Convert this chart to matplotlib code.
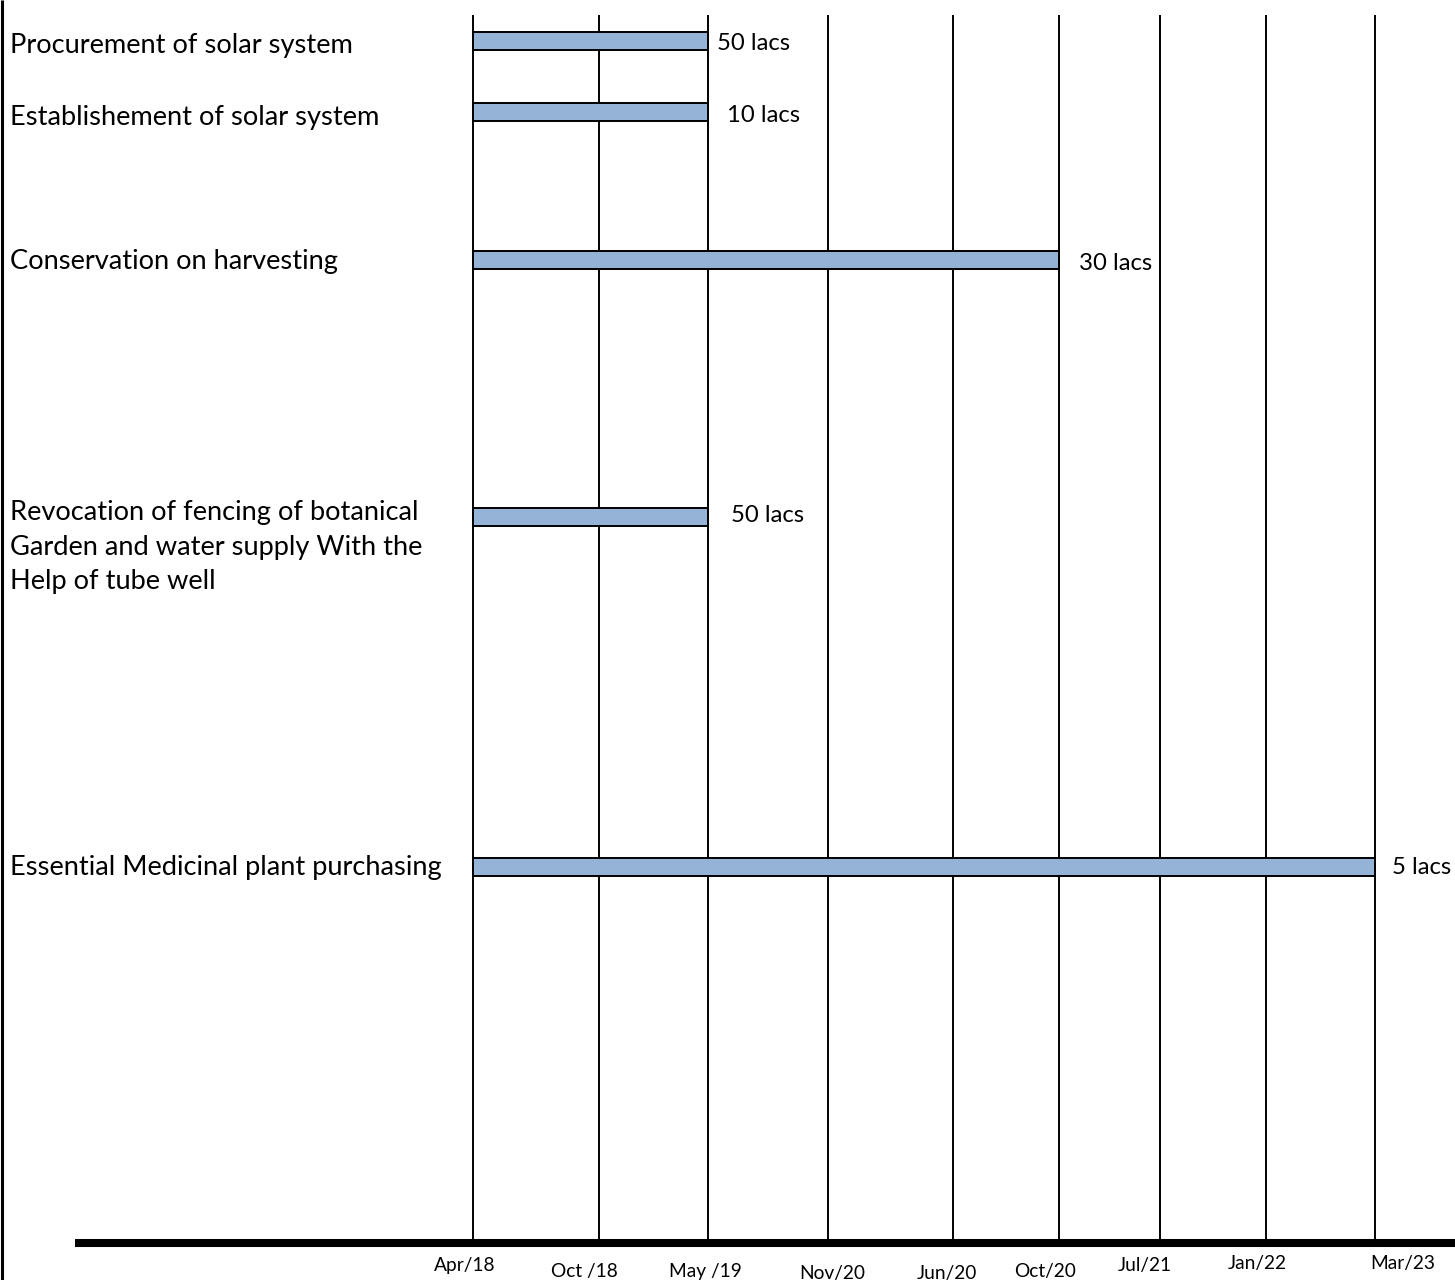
import matplotlib
matplotlib.use("Agg")
import matplotlib.pyplot as plt

# ---- data ----
tasks = [
    "Procurement of solar system",
    "Establishement of solar system",
    "Conservation on harvesting",
    "Revocation of fencing of botanical\nGarden and water supply With the\nHelp of tube well",
    "Essential Medicinal plant purchasing",
]
start_idx = [0, 0, 0, 0, 0]
end_idx = [2, 2, 5, 2, 8]
costs = ["50 lacs", "10 lacs", "30 lacs", "50 lacs", "5 lacs"]
tick_labels = ["Apr/18", "Oct /18", "May /19", "Nov/20", "Jun/20",
               "Oct/20", "Jul/21", "Jan/22", "Mar/23"]

# ---- layout (pixel space of the 1455x1280 canvas) ----
W, H = 1455, 1280
tick_x = [473, 599, 708, 828, 953, 1059, 1160, 1266, 1375]
bar_y = [41, 112, 260, 517, 867]
bar_h = 18
task_label_y = [45, 117, 261, 547, 868]
cost_x_off = [9, 19, 20, 23, 17]
cost_y = [43, 115, 263, 515, 867]
tick_label_x = [465, 584, 705, 832, 947, 1045, 1145, 1257, 1403]
tick_label_y = [1265, 1271, 1271, 1273, 1273, 1271, 1266, 1263, 1264]
axis_y = 1243
line_top = 15

FONT = "Lato"
BAR_COLOR = "#95B3D7"

fig = plt.figure(figsize=(W / 100, H / 100), dpi=100)
ax = fig.add_axes([0, 0, 1, 1])
ax.set_xlim(0, W)
ax.set_ylim(H, 0)
ax.axis("off")

# vertical grid lines
for x in tick_x:
    ax.plot([x, x], [line_top, axis_y], color="black", lw=1.4, zorder=1,
            solid_capstyle="butt")

# left border
ax.plot([1.5, 1.5], [0, H], color="black", lw=2.2, solid_capstyle="butt")

# thick baseline
ax.plot([75, W], [axis_y, axis_y], color="black", lw=5.8, solid_capstyle="butt",
        zorder=3)

# bars
for i, t in enumerate(tasks):
    x0 = tick_x[start_idx[i]]
    x1 = tick_x[end_idx[i]]
    ax.barh(bar_y[i], x1 - x0, left=x0, height=bar_h, color=BAR_COLOR,
            edgecolor="black", linewidth=1.4, zorder=2)
    ax.text(10, task_label_y[i], t, fontsize=19.6, family=FONT,
            va="center", ha="left", linespacing=1.47, color="black")
    ax.text(x1 + cost_x_off[i], cost_y[i], costs[i], fontsize=17.2, family=FONT,
            va="center", ha="left", color="black")

# tick labels
for i, lab in enumerate(tick_labels):
    ax.text(tick_label_x[i], tick_label_y[i], lab, fontsize=13.8, family=FONT,
            va="center", ha="center", color="black")

fig.savefig("out.png", dpi=100)
